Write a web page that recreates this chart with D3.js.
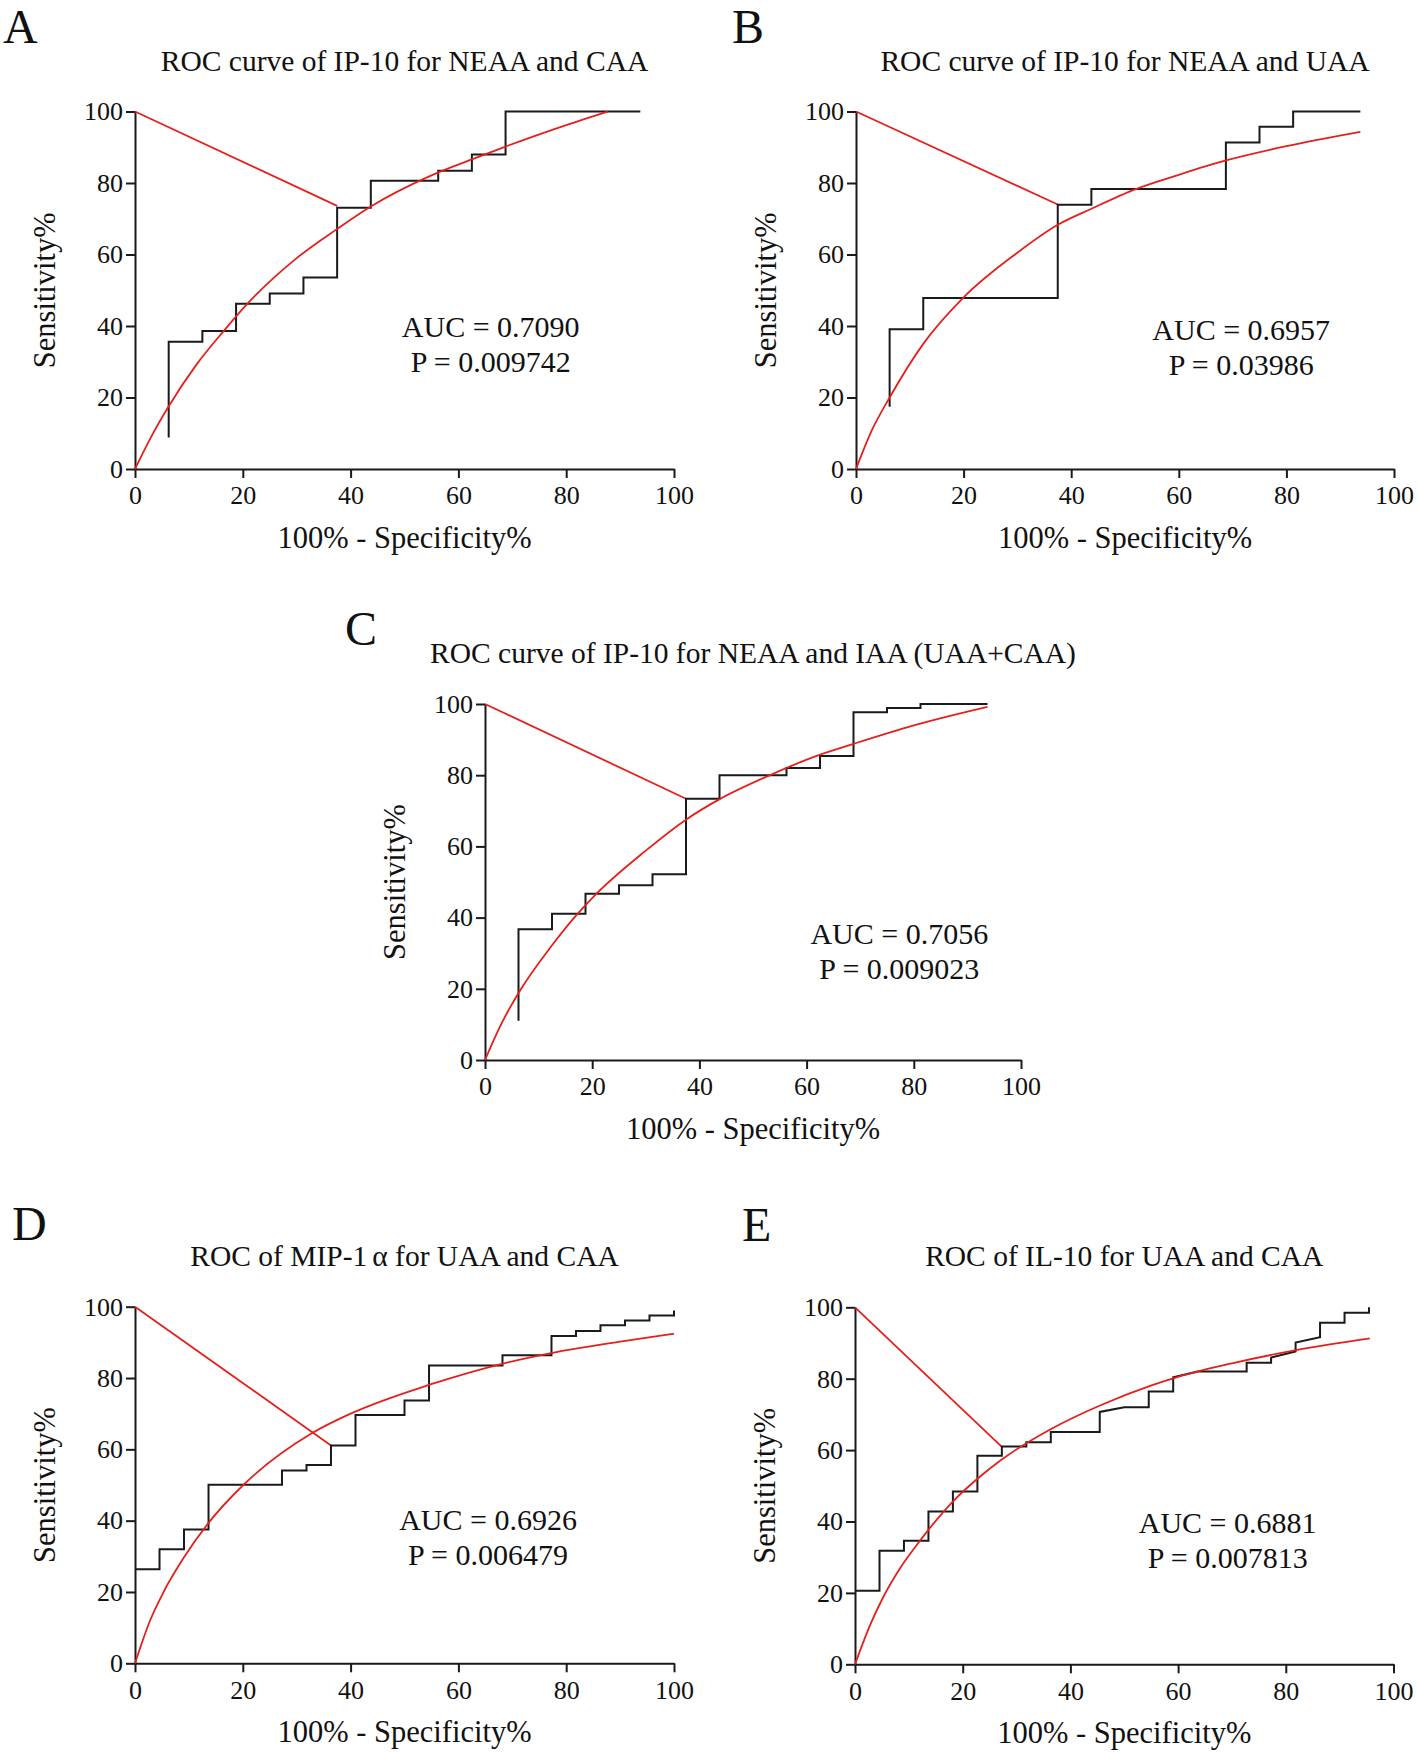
<!DOCTYPE html>
<html>
<head>
<meta charset="utf-8">
<script src="https://cdn.jsdelivr.net/npm/d3@7"></script>
<style>
  html, body { margin: 0; padding: 0; background: #fff; }
  svg { display: block; }
  text { font-family: "Liberation Serif", "Times New Roman", serif; fill: #111; }
</style>
</head>
<body>
<svg id="chart" width="1418" height="1752"></svg>
<script>
// ---------------- DATA ----------------
const panelLetters = ["A", "B", "C", "D", "E"];
const titles = [
  "ROC curve of IP-10 for NEAA and CAA",
  "ROC curve of IP-10 for NEAA and UAA",
  "ROC curve of IP-10 for NEAA and IAA (UAA+CAA)",
  "ROC of MIP-1α for UAA and CAA",
  "ROC of IL-10 for UAA and CAA"
];
const aucLabels = ["AUC = 0.7090", "AUC = 0.6957", "AUC = 0.7056", "AUC = 0.6926", "AUC = 0.6881"];
const pLabels = ["P = 0.009742", "P = 0.03986", "P = 0.009023", "P = 0.006479", "P = 0.007813"];
const xTicks = [0, 20, 40, 60, 80, 100];
const yTicks = [0, 20, 40, 60, 80, 100];
const xAxisTitle = "100% - Specificity%";
const yAxisTitle = "Sensitivity%";

// Empirical ROC step lines (100% - specificity, sensitivity)
const stepXA = [6.25,6.25,12.5,12.5,18.75,18.75,25,25,31.25,31.25,37.5,37.5,43.75,43.75,56.25,56.25,62.5,62.5,68.75,68.75,93.75];
const stepYA = [8.8,35.6,35.6,38.6,38.6,46.2,46.2,49.1,49.1,53.6,53.6,73.1,73.1,80.6,80.6,83.4,83.4,88.0,88.0,100,100];

const stepXB = [6.25,6.25,12.5,12.5,37.5,37.5,43.75,43.75,68.75,68.75,75,75,81.25,81.25,93.75];
const stepYB = [17.4,39.1,39.1,47.8,47.8,73.9,73.9,78.3,78.3,91.3,91.3,95.7,95.7,100,100];

const stepXC = [6.25,6.25,12.5,12.5,18.75,18.75,25,25,31.25,31.25,37.5,37.5,43.75,43.75,56.25,56.25,62.5,62.5,68.75,68.75,75,75,81.25,81.25,93.75];
const stepYC = [11.0,36.7,36.7,41.1,41.1,46.7,46.7,49.1,49.1,52.2,52.2,73.4,73.4,80.0,80.0,82.0,82.0,85.4,85.4,97.7,97.7,98.9,98.9,100,100];

const stepXD = [0,4.55,4.55,9.09,9.09,13.64,13.64,27.27,27.27,31.82,31.82,36.36,36.36,40.91,40.91,50,50,54.55,54.55,68.18,68.18,77.27,77.27,81.82,81.82,86.36,86.36,90.91,90.91,95.45,95.45,100,100];
const stepYD = [26.4,26.4,32.0,32.0,37.5,37.5,50.1,50.1,54.1,54.1,55.6,55.6,61.1,61.1,69.6,69.6,73.7,73.7,83.5,83.5,86.4,86.4,91.8,91.8,93.2,93.2,94.8,94.8,96.1,96.1,97.5,97.5,98.9];

const stepXE = [0,4.55,4.55,9.09,9.09,13.64,13.64,18.18,18.18,22.73,22.73,27.27,27.27,31.82,31.82,36.36,36.36,45.45,45.45,50,54.55,54.55,59.09,59.09,63.64,72.73,72.73,77.27,77.27,81.82,81.82,86.36,86.36,90.91,90.91,95.45,95.45];
const stepYE = [20.6,20.6,31.8,31.8,34.6,34.6,42.8,42.8,48.4,48.4,58.4,58.4,61.0,61.0,62.2,62.2,65.1,65.1,70.7,72.0,72.0,76.4,76.4,80.4,82.0,82.0,84.5,84.5,85.9,87.6,90.1,91.6,95.7,95.7,98.5,98.5,100];

// Fitted (smooth) ROC curves
const fitXA = [0,3,6.2,11.5,16.4,20.4,30,37.45,43.6,54.8,62.5,68.75,80,87.7];
const fitYA = [0,9,17.4,29.4,38.5,45.5,59,67.1,73.3,82,86.6,90.2,96.2,100];

const fitXB = [0,3,6.25,12.5,20,30,37.5,43.75,52,60,68.75,80,93.75];
const fitYB = [0,11,20,35,48,60.5,68.3,72.8,78.3,82.3,86.3,90.3,94.3];

const fitXC = [0,3,6.25,12.4,17.3,20,30,37.5,43.7,53,62,68.75,80,93.75];
const fitYC = [0,10,18.8,32,41.1,45.5,58.8,67.5,73.2,79.9,85.5,88.8,94,99.2];

const fitXD = [0,2.8,5.3,9,13.6,20.1,32.8,40,54.8,68.1,77.2,90,100];
const fitYD = [0,12,20,29.5,39.3,50,64.5,70,78.2,84.0,87.0,90.2,92.4];

const fitXE = [0,2.8,5.3,8.4,11.5,13.7,18.3,22.9,27.2,31.9,36.5,45.5,54.8,60,70,81.9,95.6];
const fitYE = [0,11,19,27,33.5,37.8,45.8,52.2,57.3,62.0,66.0,72.5,78.0,80.5,84.3,88.0,91.3];

// Cut-off lines from (0,100) to optimal point
const cutXA = [0, 37.5],  cutYA = [100, 73.6];
const cutXB = [0, 37.5],  cutYB = [100, 74.0];
const cutXC = [0, 37.5],  cutYC = [100, 73.4];
const cutXD = [0, 36.36], cutYD = [100, 61.1];
const cutXE = [0, 27.27], cutYE = [100, 60.9];

// annotation anchor (data units) for AUC text
const annX = [66, 71.6, 77.3, 65.5, 69.2];
const annY = [36.8, 36.2, 32.6, 37.5, 36.8];

// ---------------- LAYOUT ----------------
const layout = [
  {x0:135, x1:674,    yTop:111.5,  yBot:469,    lx:3,   ly:43},
  {x0:856, x1:1394,   yTop:111.5,  yBot:469,    lx:732, ly:43},
  {x0:485, x1:1021,   yTop:704,    yBot:1060,   lx:345, ly:645},
  {x0:135, x1:674,    yTop:1306.7, yBot:1663.3, lx:12,  ly:1240},
  {x0:855, x1:1393.5, yTop:1307.3, yBot:1664.3, lx:742, ly:1241}
];

const steps = [[stepXA,stepYA],[stepXB,stepYB],[stepXC,stepYC],[stepXD,stepYD],[stepXE,stepYE]];
const fits  = [[fitXA,fitYA],[fitXB,fitYB],[fitXC,fitYC],[fitXD,fitYD],[fitXE,fitYE]];
const cuts  = [[cutXA,cutYA],[cutXB,cutYB],[cutXC,cutYC],[cutXD,cutYD],[cutXE,cutYE]];

const RED = "#e3201c";
const BLACK = "#1a1a1a";
const FONT = '"Liberation Serif", "Times New Roman", serif';

const svg = d3.select("#chart");
svg.append("rect").attr("width",1418).attr("height",1752).attr("fill","#fff");

layout.forEach((L, i) => {
  const x = d3.scaleLinear().domain([0,100]).range([L.x0, L.x1]);
  const y = d3.scaleLinear().domain([0,100]).range([L.yBot, L.yTop]);
  const g = svg.append("g");

  // panel letter
  g.append("text").attr("x", L.lx).attr("y", L.ly)
    .attr("font-size", 48).text(panelLetters[i]);

  // title
  const t = g.append("text")
    .attr("x", (L.x0 + L.x1)/2).attr("y", L.yTop - 41)
    .attr("text-anchor","middle").attr("font-size", 29.5);
  if (i === 3) {
    t.append("tspan").text("ROC of MIP-1");
    t.append("tspan").attr("dx", 5).text("α");
    t.append("tspan").text(" for UAA and CAA");
  } else {
    t.text(titles[i]);
  }

  // axes
  const xa = g.append("g").attr("transform", `translate(0,${L.yBot})`)
    .call(d3.axisBottom(x).tickValues(xTicks).tickSize(9).tickSizeOuter(0).tickPadding(8).tickFormat(d3.format("d")));
  const ya = g.append("g").attr("transform", `translate(${L.x0},0)`)
    .call(d3.axisLeft(y).tickValues(yTicks).tickSize(9).tickSizeOuter(0).tickPadding(3).tickFormat(d3.format("d")));
  [xa, ya].forEach(a => {
    a.select(".domain").attr("stroke", BLACK).attr("stroke-width", 2);
    a.selectAll(".tick line").attr("stroke", BLACK).attr("stroke-width", 2);
    a.selectAll(".tick text").attr("font-size", 26)
      .attr("font-family", FONT).attr("fill", "#111");
  });

  // axis titles
  g.append("text").attr("x", (L.x0 + L.x1)/2).attr("y", L.yBot + 79)
    .attr("text-anchor","middle").attr("font-size", 30.5).text(xAxisTitle);
  g.append("text")
    .attr("transform", `translate(${L.x0 - 80},${(L.yTop + L.yBot)/2}) rotate(-90)`)
    .attr("text-anchor","middle").attr("font-size", 30.5).text(yAxisTitle);

  const line = d3.line().x(d => x(d[0])).y(d => y(d[1]));
  const smooth = d3.line().x(d => x(d[0])).y(d => y(d[1])).curve(d3.curveMonotoneX);

  // red cut-off line
  g.append("path").datum(d3.zip(cuts[i][0], cuts[i][1]))
    .attr("d", line).attr("fill","none").attr("stroke", RED).attr("stroke-width", 1.8);

  // black step line
  g.append("path").datum(d3.zip(steps[i][0], steps[i][1]))
    .attr("d", line).attr("fill","none").attr("stroke", BLACK)
    .attr("stroke-width", 2).attr("stroke-linejoin","miter");

  // red fitted curve
  g.append("path").datum(d3.zip(fits[i][0], fits[i][1]))
    .attr("d", smooth).attr("fill","none").attr("stroke", RED).attr("stroke-width", 1.8);

  // annotations
  const ax = x(annX[i]), ay = y(annY[i]);
  g.append("text").attr("x", ax).attr("y", ay).attr("text-anchor","middle")
    .attr("font-size", 30).text(aucLabels[i]);
  g.append("text").attr("x", ax).attr("y", ay + 35).attr("text-anchor","middle")
    .attr("font-size", 30).text(pLabels[i]);
});
</script>
</body>
</html>
